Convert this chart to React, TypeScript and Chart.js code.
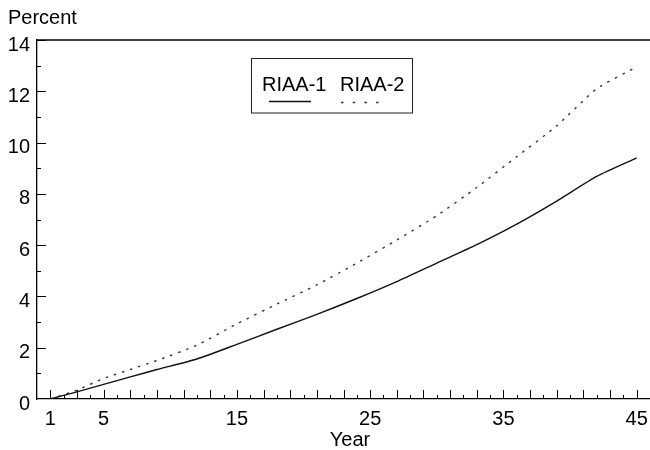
import React, { useEffect, useRef } from "react";
import { Chart, registerables } from "chart.js";

Chart.register(...registerables);

const years = [1, 3, 5, 7, 9, 12, 15, 18, 21, 24, 27, 30, 33, 36, 39, 42, 45];
const riaa1 = [0, 0.28, 0.57, 0.86, 1.15, 1.56, 2.13, 2.72, 3.3, 3.92, 4.58, 5.3, 6.02, 6.82, 7.72, 8.68, 9.4];
const riaa2 = [0, 0.35, 0.8, 1.15, 1.5, 2.1, 2.93, 3.7, 4.45, 5.3, 6.2, 7.15, 8.25, 9.45, 10.65, 12.1, 12.95];
const seriesLabels = ["RIAA-1", "RIAA-2"];
const xTickLabels = [1, 5, 15, 25, 35, 45];
const yAxisTitle = "Percent";
const xAxisTitle = "Year";

const FONT = "'Liberation Sans', Arial, Helvetica, sans-serif";
const FS = 20;

const decorPlugin = {
  id: "decor",
  afterDraw(chart: any) {
    const { ctx, chartArea } = chart;
    const xs = chart.scales.x;
    const ys = chart.scales.y;
    ctx.save();
    ctx.strokeStyle = "#000";
    ctx.lineWidth = 1.3;
    ctx.beginPath();
    ctx.moveTo(chartArea.left, chartArea.top);
    ctx.lineTo(chartArea.right, chartArea.top);
    ctx.stroke();
    ctx.lineWidth = 1;
    for (let v = 1; v <= 45; v++) {
      const px = Math.round(xs.getPixelForValue(v)) + 0.5;
      const len = v % 2 === 1 ? 9 : 4;
      ctx.beginPath();
      ctx.moveTo(px, chartArea.bottom);
      ctx.lineTo(px, chartArea.bottom - len);
      ctx.stroke();
    }
    for (let v = 1; v <= 14; v++) {
      const py = Math.round(ys.getPixelForValue(v)) + 0.5;
      const len = v % 2 === 0 ? 9 : 4;
      ctx.beginPath();
      ctx.moveTo(chartArea.left, py);
      ctx.lineTo(chartArea.left + len, py);
      ctx.stroke();
    }
    ctx.fillStyle = "#000";
    ctx.font = `${FS}px ${FONT}`;
    ctx.textAlign = "left";
    ctx.textBaseline = "alphabetic";
    ctx.fillText(yAxisTitle, 8, 24);
    ctx.textAlign = "center";
    ctx.fillText(xAxisTitle, 350, 446);
    ctx.strokeStyle = "#222";
    ctx.lineWidth = 1;
    ctx.strokeRect(251.5, 58.5, 161, 54.5);
    ctx.textAlign = "left";
    const ds0 = chart.data.datasets[0];
    const ds1 = chart.data.datasets[1];
    ctx.fillText(ds0.label, 262, 91);
    ctx.fillText(ds1.label, 340, 91);
    ctx.strokeStyle = ds0.borderColor;
    ctx.lineWidth = 1.5;
    ctx.setLineDash([]);
    ctx.beginPath();
    ctx.moveTo(269, 101.5);
    ctx.lineTo(311, 101.5);
    ctx.stroke();
    ctx.strokeStyle = ds1.borderColor;
    ctx.setLineDash([2.5, 9.2]);
    ctx.beginPath();
    ctx.moveTo(341, 102.5);
    ctx.lineTo(379, 102.5);
    ctx.stroke();
    ctx.restore();
  },
};

export default function App() {
  const ref = useRef<HTMLCanvasElement>(null);
  useEffect(() => {
    if (!ref.current) return;
    const chart = new Chart(ref.current, {
      type: "line",
      data: {
        datasets: [
          {
            label: seriesLabels[0],
            data: years.map((y, i) => ({ x: y, y: riaa1[i] })),
            borderColor: "#111",
            borderWidth: 1.4,
            pointRadius: 0,
            tension: 0.2,
            fill: false,
          },
          {
            label: seriesLabels[1],
            data: years.map((y, i) => ({ x: y, y: riaa2[i] })),
            borderColor: "#333",
            borderWidth: 1.4,
            borderDash: [2.5, 6],
            pointRadius: 0,
            tension: 0.2,
            fill: false,
          },
        ],
      },
      options: {
        animation: false,
        responsive: false,
        maintainAspectRatio: false,
        layout: { padding: { top: 40, right: 0, left: 0, bottom: 0 } },
        plugins: { legend: { display: false }, tooltip: { enabled: false }, title: { display: false } },
        scales: {
          x: {
            type: "linear",
            min: 0,
            max: 46,
            afterBuildTicks: (scale: any) => {
              scale.ticks = xTickLabels.map((v) => ({ value: v }));
            },
            afterFit: (scale: any) => {
              scale.height = 51;
              scale.paddingLeft = 0;
              scale.paddingRight = 0;
            },
            grid: { display: false, drawTicks: false },
            border: { display: true, color: "#000", width: 1.3 },
            ticks: {
              color: "#000",
              font: { family: FONT, size: FS },
              padding: 8.5,
              maxRotation: 0,
              autoSkip: false,
            },
          },
          y: {
            type: "linear",
            min: 0,
            max: 14,
            afterFit: (scale: any) => {
              scale.width = 37;
              scale.paddingTop = 0;
              scale.paddingBottom = 0;
            },
            grid: { display: false, drawTicks: false },
            border: { display: true, color: "#000", width: 1.3 },
            ticks: {
              stepSize: 2,
              color: "#000",
              font: { family: FONT, size: FS },
              padding: 7,
              labelOffset: 5,
            },
          },
        },
      },
      plugins: [decorPlugin],
    } as any);
    return () => chart.destroy();
  }, []);
  return (
    <div style={{ position: "absolute", left: 0, top: 0, width: 650, height: 450 }}>
      <canvas ref={ref} width={650} height={450} style={{ width: 650, height: 450 }} />
    </div>
  );
}
